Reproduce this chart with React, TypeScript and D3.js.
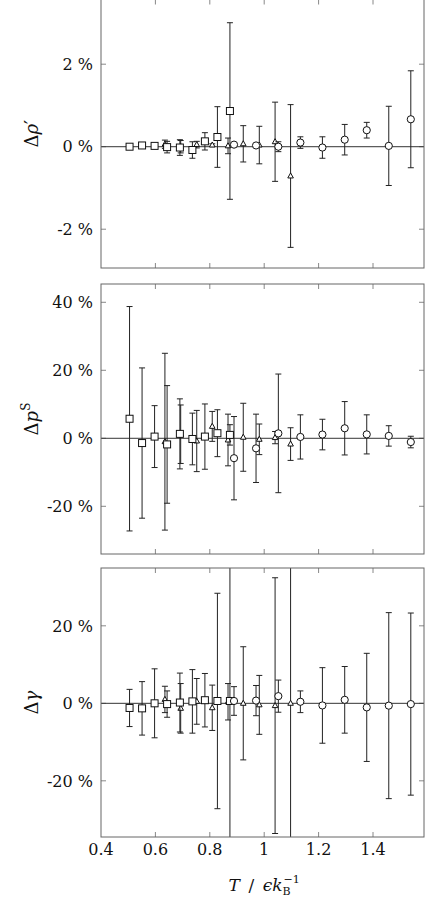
import React from "react";
import * as d3 from "d3";

// Temperatures of the three series
const tSquares = [0.505, 0.551, 0.597, 0.643, 0.69, 0.736, 0.782, 0.828, 0.874];
const tTriangles = [0.635, 0.693, 0.752, 0.809, 0.867, 0.923, 0.982, 1.04, 1.097];
const tCircles = [0.889, 0.97, 1.052, 1.133, 1.214, 1.296, 1.377, 1.458, 1.539];

// Panel 1: Δρ'
const rhoSqVal = [0.0, 0.03, 0.02, -0.01, -0.02, -0.08, 0.13, 0.235, 0.865];
const rhoSqErr = [0.03, 0.03, 0.03, 0.14, 0.19, 0.2, 0.21, 0.735, 2.14];
const rhoTriVal = [0.06, 0.0, 0.05, 0.04, 0.02, 0.07, 0.04, 0.12, -0.71];
const rhoTriErr = [0.1, 0.15, 0.08, 0.03, 0.19, 0.44, 0.455, 0.96, 1.73];
const rhoCirVal = [0.05, 0.03, 0.0, 0.1, -0.02, 0.17, 0.4, 0.02, 0.665];
const rhoCirErr = [0.03, 0.03, 0.12, 0.14, 0.26, 0.37, 0.19, 0.96, 1.175];

// Panel 2: Δp^S
const pSqVal = [5.75, -1.4, 0.5, -1.8, 1.3, -0.2, 0.5, 1.5, 1.0];
const pSqErr = [33, 22.1, 9.1, 17.3, 10.3, 7.6, 9.6, 6.9, 3.0];
const pTriVal = [-1.0, 1.2, -0.8, 3.5, -0.5, 0.3, -0.3, 0.2, -1.7];
const pTriErr = [26, 8.6, 9, 4.4, 7.6, 10, 4.5, 1.8, 4.8];
const pCirVal = [-5.85, -2.95, 1.45, 0.4, 1.1, 2.95, 1.15, 0.7, -1.1];
const pCirErr = [12.25, 10.05, 17.45, 6.5, 4.5, 7.85, 5.75, 3, 1.7];

// Panel 3: Δγ
const gSqVal = [-1.2, -1.3, 0, -0.2, 0.2, 0.5, 0.8, 0.6, 0.6];
const gSqErr = [4.8, 6.9, 8.9, 3.4, 7.6, 8.2, 6.9, 27.8, 80];
const gTriVal = [1.0, -1.3, 0.5, -1.15, 0.4, 0, -0.4, -0.6, 0];
const gTriErr = [3.4, 6.4, 5.9, 5.85, 4.7, 14.6, 7.6, 33, 80];
const gCirVal = [0.6, 0.7, 1.85, 0.4, -0.55, 0.9, -1.05, -0.6, -0.2];
const gCirErr = [3.7, 3.9, 4.15, 2.8, 9.75, 8.6, 13.95, 24, 23.5];

// Axis ticks
const xTicks = [0.4, 0.6, 0.8, 1.0, 1.2, 1.4];
const xTickLabels = ["0.4", "0.6", "0.8", "1", "1.2", "1.4"];
const rhoTicks = [-2, 0, 2];
const pTicks = [-20, 0, 20, 40];
const gTicks = [-20, 0, 20];

const W = 425;
const H = 898;
const LEFT = 101;
const RIGHT = 424;
const FONT = "DejaVu Serif";

const x = d3.scaleLinear().domain([0.4, 0.4 + 323 / 272]).range([LEFT, RIGHT]);

type Series = { t: number[]; v: number[]; e: number[]; shape: "sq" | "tri" | "cir" };

type PanelDef = {
  id: string;
  top: number;
  bottom: number;
  domain: [number, number];
  ticks: number[];
  series: Series[];
  title: React.ReactNode;
  titleX: number;
};

const panels: PanelDef[] = [
  {
    id: "rho",
    top: -0.5,
    bottom: 268,
    domain: [-2.94, 3.568],
    ticks: rhoTicks,
    series: [
      { t: tTriangles, v: rhoTriVal, e: rhoTriErr, shape: "tri" },
      { t: tSquares, v: rhoSqVal, e: rhoSqErr, shape: "sq" },
      { t: tCircles, v: rhoCirVal, e: rhoCirErr, shape: "cir" },
    ],
    title: (
      <>
        <tspan>Δ</tspan>
        <tspan fontStyle="italic">ρ</tspan>
        <tspan>′</tspan>
      </>
    ),
    titleX: 38,
  },
  {
    id: "ps",
    top: 284,
    bottom: 554,
    domain: [-34.03, 45.38],
    ticks: pTicks,
    series: [
      { t: tTriangles, v: pTriVal, e: pTriErr, shape: "tri" },
      { t: tSquares, v: pSqVal, e: pSqErr, shape: "sq" },
      { t: tCircles, v: pCirVal, e: pCirErr, shape: "cir" },
    ],
    title: (
      <>
        <tspan>Δ</tspan>
        <tspan fontStyle="italic">p</tspan>
        <tspan fontSize={12} dy={-8}>S</tspan>
      </>
    ),
    titleX: 38,
  },
  {
    id: "gam",
    top: 568,
    bottom: 837,
    domain: [-34.5, 34.92],
    ticks: gTicks,
    series: [
      { t: tTriangles, v: gTriVal, e: gTriErr, shape: "tri" },
      { t: tSquares, v: gSqVal, e: gSqErr, shape: "sq" },
      { t: tCircles, v: gCirVal, e: gCirErr, shape: "cir" },
    ],
    title: (
      <>
        <tspan>Δ</tspan>
        <tspan fontStyle="italic">γ</tspan>
      </>
    ),
    titleX: 38,
  },
];

const Marker: React.FC<{ shape: string; cx: number; cy: number }> = ({ shape, cx, cy }) => {
  const st = { fill: "white", stroke: "#111", strokeWidth: 1 };
  if (shape === "sq") return <rect x={cx - 3.5} y={cy - 3.5} width={7} height={7} {...st} />;
  if (shape === "cir") return <circle cx={cx} cy={cy} r={3.6} {...st} />;
  const s = 2.8;
  return (
    <path
      d={`M${cx},${cy - s * 1.1}L${cx + s},${cy + s * 0.7}L${cx - s},${cy + s * 0.7}Z`}
      {...st}
    />
  );
};

const Panel: React.FC<{ p: PanelDef; last: boolean }> = ({ p, last }) => {
  const y = d3.scaleLinear().domain(p.domain).range([p.bottom, p.top]);
  const tickLen = 5;
  const cap = 3;
  const clipId = `clip-${p.id}`;
  const midY = (p.top + p.bottom) / 2;
  return (
    <g>
      <defs>
        <clipPath id={clipId}>
          <rect x={LEFT} y={p.top} width={RIGHT - LEFT} height={p.bottom - p.top} />
        </clipPath>
      </defs>
      {xTicks.slice(1).map((t) => (
        <g key={`xt${t}`} stroke="#888" strokeWidth={1}>
          <line x1={x(t)} x2={x(t)} y1={p.top} y2={p.top + tickLen} />
          <line x1={x(t)} x2={x(t)} y1={p.bottom} y2={p.bottom - tickLen} />
        </g>
      ))}
      {p.ticks.map((v) => (
        <g key={`yt${v}`} stroke="#888" strokeWidth={1}>
          <line x1={LEFT} x2={LEFT + tickLen} y1={y(v)} y2={y(v)} />
          <line x1={RIGHT} x2={RIGHT - tickLen} y1={y(v)} y2={y(v)} />
        </g>
      ))}
      <line x1={LEFT} x2={RIGHT} y1={y(0)} y2={y(0)} stroke="#333" strokeWidth={1} />
      <g clipPath={`url(#${clipId})`}>
        {p.series.map((s, si) => (
          <g key={si}>
            {s.t.map((t, i) => {
              const cx = x(t);
              const y1 = y(s.v[i] + s.e[i]);
              const y2 = y(s.v[i] - s.e[i]);
              return (
                <g key={i} stroke="#222" strokeWidth={1}>
                  <line x1={cx} x2={cx} y1={y1} y2={y2} />
                  <line x1={cx - cap} x2={cx + cap} y1={y1} y2={y1} />
                  <line x1={cx - cap} x2={cx + cap} y1={y2} y2={y2} />
                </g>
              );
            })}
            {s.t.map((t, i) => (
              <Marker key={`m${i}`} shape={s.shape} cx={x(t)} cy={y(s.v[i])} />
            ))}
          </g>
        ))}
      </g>
      <rect
        x={LEFT}
        y={p.top}
        width={RIGHT - LEFT}
        height={p.bottom - p.top}
        fill="none"
        stroke="#666"
        strokeWidth={1}
      />
      {p.ticks.map((v) => (
        <text
          key={`yl${v}`}
          x={LEFT - 8}
          y={y(v)}
          dy="0.36em"
          textAnchor="end"
          fontFamily={FONT}
          fontSize={16}
          fill="#111"
        >
          {`${v} %`}
        </text>
      ))}
      <text
        transform={`translate(${p.titleX},${midY}) rotate(-90)`}
        textAnchor="middle"
        fontFamily={FONT}
        fontSize={18}
        fill="#111"
      >
        {p.title}
      </text>
      {last &&
        xTicks.map((t, i) => (
          <text
            key={`xl${t}`}
            x={x(t)}
            y={p.bottom + 18}
            textAnchor="middle"
            fontFamily={FONT}
            fontSize={16}
            fill="#111"
          >
            {xTickLabels[i]}
          </text>
        ))}
    </g>
  );
};

export default function App() {
  return (
    <svg
      width={W}
      height={H}
      style={{ position: "absolute", left: 0, top: 0, background: "white" }}
    >
      <rect x={0} y={0} width={W} height={H} fill="white" />
      {panels.map((p, i) => (
        <Panel key={p.id} p={p} last={i === panels.length - 1} />
      ))}
      <text x={x(1.0)} y={891} textAnchor="middle" fontFamily={FONT} fontSize={17} fill="#111">
        <tspan fontStyle="italic">T</tspan>
        <tspan>{"\u2002/\u2002"}</tspan>
        <tspan fontStyle="italic">ϵk</tspan>
        <tspan fontSize={11} dy={4}>B</tspan>
        <tspan fontSize={11} dx={-7} dy={-12}>−1</tspan>
      </text>
    </svg>
  );
}
